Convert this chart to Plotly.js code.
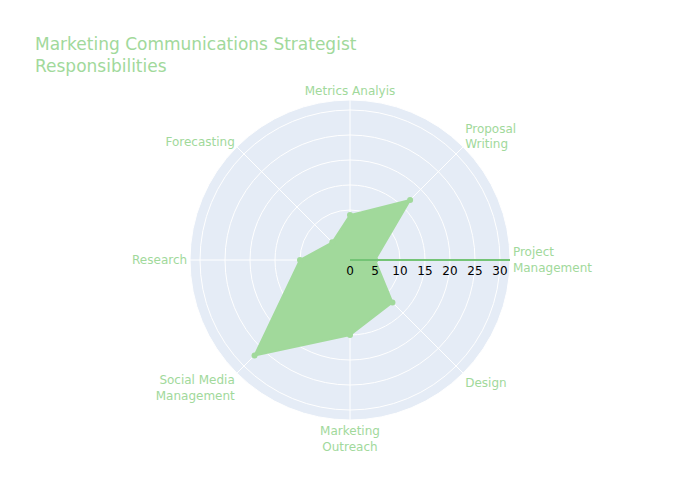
<!DOCTYPE html>
<html>
<head>
<meta charset="utf-8">
<script src="https://cdn.plot.ly/plotly-3.0.1.min.js"></script>
<style>html,body{margin:0;padding:0;}#chart{width:700px;height:500px;}</style>
</head>
<body>
<div id="chart"></div>
<script>
const categories = ["Project<br>Management", "Proposal<br>Writing", "Metrics Analyis", "Forecasting", "Research", "Social Media<br>Management", "Marketing<br>Outreach", "Design"];
const values = [5, 17, 9, 5, 10, 27, 15, 12];
const radialTicks = [0, 5, 10, 15, 20, 25, 30];

const mainColor = "#a1d99b";
const axisColor = "#74c476";

const trace = {
  type: "scatterpolar",
  r: values.concat([values[0]]),
  theta: categories.concat([categories[0]]),
  fill: "toself",
  fillcolor: mainColor,
  mode: "lines+markers",
  line: {color: mainColor},
  marker: {color: mainColor, size: 6},
  showlegend: false
};

const layout = {
  width: 700,
  height: 500,
  paper_bgcolor: "#ffffff",
  title: {
    text: "Marketing Communications Strategist<br>Responsibilities",
    font: {color: mainColor, size: 17},
    x: 0.05
  },
  font: {color: mainColor, family: '"DejaVu Sans", Verdana, sans-serif', size: 12},
  polar: {
    bgcolor: "#E5ECF6",
    radialaxis: {
      visible: true,
      range: [0, 32],
      tickvals: radialTicks,
      angle: 0,
      linecolor: axisColor,
      linewidth: 2,
      gridcolor: "white",
      ticks: "",
      tickfont: {color: "#000000"}
    },
    angularaxis: {
      tickfont: {color: mainColor},
      direction: "counterclockwise",
      rotation: 0,
      gridcolor: "white",
      linecolor: "white",
      ticks: ""
    }
  }
};

Plotly.newPlot("chart", [trace], layout, {displayModeBar: false});
</script>
</body>
</html>
